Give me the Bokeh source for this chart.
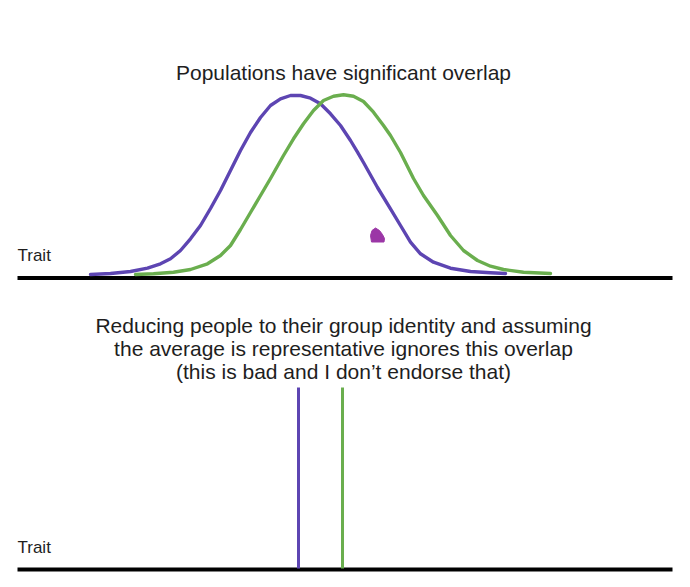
from bokeh.plotting import figure
from bokeh.models import Range1d, ColumnDataSource
from bokeh.core.properties import value
from bokeh.embed import file_html
from bokeh.resources import INLINE

# ---- data (page-pixel coordinates, y grows downward) ----
purple_x = [90, 110, 130, 147, 160, 170, 180, 190, 200, 210, 220, 230, 240, 250, 260, 270,
            280, 290, 300, 310, 320, 330, 340, 350, 357, 363, 377, 390, 400, 410, 420,
            433, 450, 470, 490, 505]
purple_y = [274, 273, 271, 267.7, 263.3, 258.3, 250, 238.3, 225, 208, 190, 170, 150, 132,
            117, 105, 98.3, 95, 95, 97.7, 103.3, 113.3, 125, 140, 151.7, 162, 187, 208.3,
            225, 241.7, 253.3, 261.7, 267.7, 271, 272.3, 273]

green_x = [135, 153, 173, 190, 207, 220, 230, 240, 250, 260, 270, 283, 293, 303, 313, 323,
           333, 343, 353, 363, 373, 383, 390, 400, 413, 423, 437, 450, 463, 477, 490, 503,
           523, 550]
green_y = [274, 273.3, 271.7, 269, 263.3, 255, 245, 229, 212, 195, 178, 155, 138.3, 123.3,
           110, 100, 95.7, 94.3, 95.7, 101, 111.7, 125, 135, 152, 178, 195, 215, 235, 250,
           260, 265.7, 269, 271.7, 273]

purple_mean = 298
green_mean = 342

trait_start = 17
trait_end = 672
top_baseline = 277.5
bottom_baseline = 569
mean_line_top = 387

blob_x = [375, 379, 382, 384, 383.5, 371, 370, 371.5]
blob_y = [227.5, 230, 234, 238, 241.5, 241.5, 235, 230]

title_text = "Populations have significant overlap"
body_lines = ["Reducing people to their group identity and assuming",
              "the average is representative ignores this overlap",
              "(this is bad and I don\u2019t endorse that)"]
axis_label = "Trait"

PURPLE = "#5d45b2"
GREEN = "#6aae4e"
BLOB = "#9b36a6"
TEXT = "#1e1e1e"
FONT = "Liberation Sans"

W, H = 682, 579
p = figure(width=W, height=H, output_backend="svg", toolbar_location=None,
           x_range=Range1d(0, W), y_range=Range1d(H, 0),
           min_border=0, min_border_left=0, min_border_right=0,
           min_border_top=0, min_border_bottom=0)
p.axis.visible = False
p.grid.visible = False
p.outline_line_color = None
p.background_fill_color = "white"
p.border_fill_color = "white"

# baselines
p.line([trait_start, trait_end], [top_baseline, top_baseline], line_color="black", line_width=4)
p.line([trait_start, trait_end], [bottom_baseline, bottom_baseline], line_color="black", line_width=4)

# distributions
p.line(purple_x, purple_y, line_color=PURPLE, line_width=3.4, line_cap="round", line_join="round")
p.line(green_x, green_y, line_color=GREEN, line_width=3.4, line_cap="round", line_join="round")

# averages
p.line([purple_mean, purple_mean], [mean_line_top, bottom_baseline - 1], line_color=PURPLE, line_width=3)
p.line([green_mean, green_mean], [mean_line_top, bottom_baseline - 1], line_color=GREEN, line_width=3)

# stray blob
p.patch(blob_x, blob_y, fill_color=BLOB, line_color=BLOB, line_width=1, line_join="round")

# texts (alphabetic baselines)
center_x = 343
p.text(x=[center_x], y=[72], text=[title_text], text_font=value(FONT),
       text_font_size="21px", text_align="center", text_baseline="alphabetic",
       text_color=TEXT)
body_src = ColumnDataSource(dict(x=[center_x] * 3, y=[325, 348, 371], t=body_lines))
p.text(x="x", y="y", text="t", source=body_src, text_font=value(FONT),
       text_font_size="21px", text_align="center", text_baseline="alphabetic",
       text_color=TEXT)
p.text(x=[trait_start, trait_start], y=[255, 547], text=[axis_label, axis_label],
       text_font=value(FONT), text_font_size="17px", text_align="left",
       text_baseline="alphabetic", text_color=TEXT)

open("out.html", "w").write(file_html(p, INLINE))
